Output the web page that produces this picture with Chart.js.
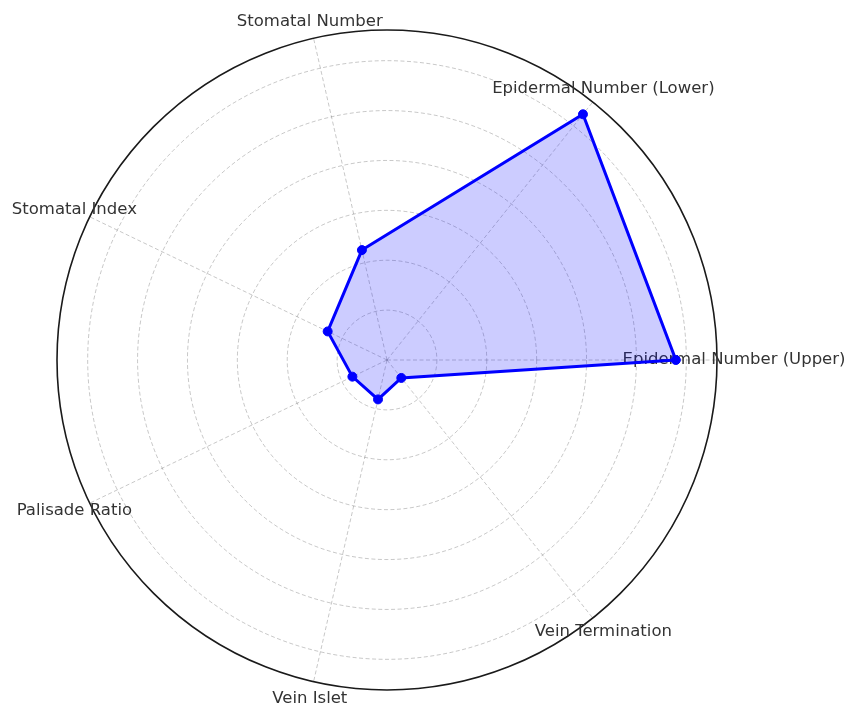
<!DOCTYPE html>
<html>
<head>
<meta charset="utf-8">
<script src="https://cdn.jsdelivr.net/npm/chart.js@4.4.1/dist/chart.umd.min.js"></script>
<style>
  html, body { margin: 0; padding: 0; background: #fff; }
  #wrap { width: 849px; height: 704px; }
</style>
</head>
<body>
<div id="wrap"><canvas id="radar" width="849" height="704"></canvas></div>
<script>
// Categorias en el orden del grafico original (sentido antihorario desde la derecha)
const traits = [
    'Epidermal Number (Upper)',
    'Epidermal Number (Lower)',
    'Stomatal Number',
    'Stomatal Index',
    'Palisade Ratio',
    'Vein Islet',
    'Vein Termination'
];
const traitValues = [57.9, 63.0, 22.6, 13.2, 7.7, 8.1, 4.6];
const ringStep = 10;
const radiusMax = 66.15;

// Chart.js gira en sentido horario, asi que invertimos el resto
const order = [0, ...traits.slice(1).map((_, i) => traits.length - 1 - i)];
const labels = order.map(i => traits[i]);
const values = order.map(i => traitValues[i]);

// Etiquetas dibujadas a mano para que no encojan el circulo
const axisLabels = {
    id: 'axisLabels',
    beforeDatasetsDraw(chart) {
        const r = chart.scales.r;
        const ctx = chart.ctx;
        const dist = r.drawingArea * 347 / 330;
        ctx.save();
        ctx.font = '16.5px "DejaVu Sans"';
        ctx.fillStyle = '#333';
        ctx.textAlign = 'center';
        ctx.textBaseline = 'middle';
        labels.forEach((txt, i) => {
            const p = r.getPointPosition(i, dist);
            ctx.fillText(txt, p.x, p.y);
        });
        ctx.restore();
    }
};

const radarChart = new Chart(document.getElementById('radar'), {
    type: 'radar',
    data: {
        labels: labels,
        datasets: [{
            data: values,
            borderColor: '#0000ff',
            backgroundColor: 'rgba(0, 0, 255, 0.2)',
            borderWidth: 3,
            fill: true,
            pointRadius: 4.5,
            pointBackgroundColor: '#0000ff',
            pointBorderColor: '#0000ff',
            pointBorderWidth: 1
        }]
    },
    options: {
        responsive: false,
        animation: false,
        layout: {
            padding: { left: 57, right: 132, top: 30, bottom: 14 }
        },
        plugins: {
            legend: { display: false },
            tooltip: { enabled: false }
        },
        scales: {
            r: {
                min: 0,
                max: radiusMax,
                startAngle: 90,
                ticks: { display: false, stepSize: ringStep },
                pointLabels: { display: false },
                grid: {
                    circular: true,
                    color: ctx => ctx.index === ctx.chart.scales.r.ticks.length - 1 ? '#1a1a1a' : 'rgba(0, 0, 0, 0.22)',
                    lineWidth: ctx => ctx.index === ctx.chart.scales.r.ticks.length - 1 ? 1.6 : 1
                },
                border: {
                    dash: ctx => ctx.index === ctx.chart.scales.r.ticks.length - 1 ? [] : [4, 2.5]
                },
                angleLines: {
                    color: 'rgba(0, 0, 0, 0.22)',
                    lineWidth: 1,
                    borderDash: [4, 2.5]
                }
            }
        }
    },
    plugins: [axisLabels]
});
</script>
</body>
</html>
